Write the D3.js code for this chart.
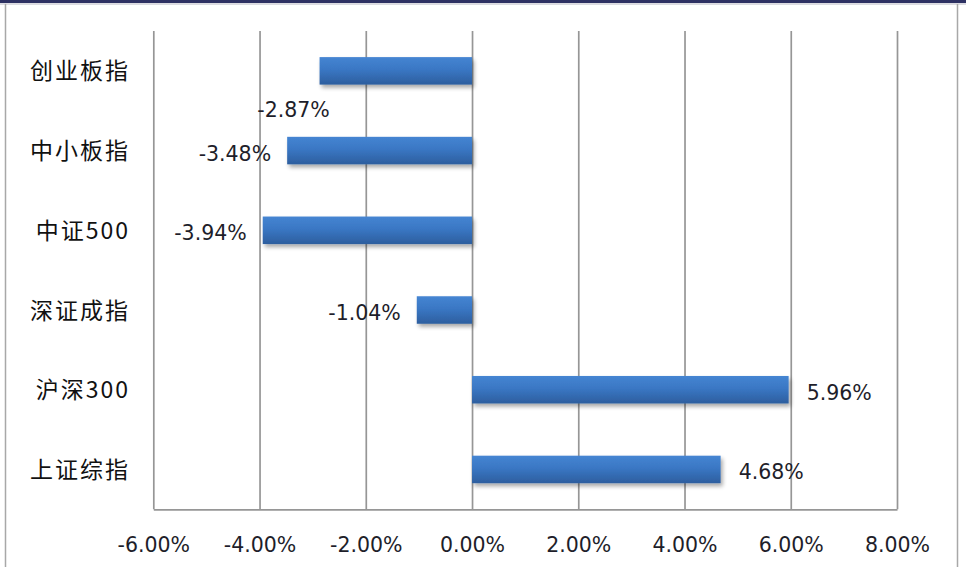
<!DOCTYPE html>
<html>
<head>
<meta charset="utf-8">
<script src="https://cdn.jsdelivr.net/npm/d3@7/dist/d3.min.js"></script>
<style>
html,body{margin:0;padding:0;background:#fff;}
svg{display:block;}
</style>
</head>
<body>
<svg id="chart" width="966" height="567"></svg>
<script>
const categories = ["创业板指", "中小板指", "中证500", "深证成指", "沪深300", "上证综指"];
const values = [-2.87, -3.48, -3.94, -1.04, 5.96, 4.68];
const tickValues = [-6, -4, -2, 0, 2, 4, 6, 8];
const xDomain = [-6, 8];

const W = 966, H = 567;
const m = {left: 153.3, right: 897, top: 31, bottom: 509.3};
const svg = d3.select("#chart");

// frame
svg.append("rect").attr("x", 0).attr("y", 0).attr("width", W).attr("height", 3).attr("fill", "#2e3163");
svg.append("line").attr("x1", 0).attr("x2", W).attr("y1", 4).attr("y2", 4).attr("stroke", "#b8b8c4").attr("stroke-width", 1);
svg.append("line").attr("x1", 5.5).attr("x2", 5.5).attr("y1", 4).attr("y2", H).attr("stroke", "#a8a8a8").attr("stroke-width", 1.5);
svg.append("line").attr("x1", 957.5).attr("x2", 957.5).attr("y1", 4).attr("y2", H).attr("stroke", "#a8a8a8").attr("stroke-width", 1.5);

const x = d3.scaleLinear().domain(xDomain).range([m.left, m.right]);
const y = d3.scaleBand().domain(categories).range([m.top, m.bottom]).paddingInner(0).paddingOuter(0);
const barH = y.bandwidth() * 0.345;

const defs = svg.append("defs");
const grad = defs.append("linearGradient").attr("id", "barGrad").attr("x1", 0).attr("y1", 0).attr("x2", 0).attr("y2", 1);
grad.append("stop").attr("offset", "0%").attr("stop-color", "#4585d2");
grad.append("stop").attr("offset", "45%").attr("stop-color", "#3a77c4");
grad.append("stop").attr("offset", "100%").attr("stop-color", "#2d5e9e");
const filt = defs.append("filter").attr("id", "shadow").attr("x", "-10%").attr("y", "-30%").attr("width", "130%").attr("height", "180%");
filt.append("feGaussianBlur").attr("in", "SourceAlpha").attr("stdDeviation", 2).attr("result", "b");
filt.append("feOffset").attr("in", "b").attr("dx", 2).attr("dy", 3).attr("result", "o");
filt.append("feComponentTransfer").attr("in", "o").attr("result", "s")
  .append("feFuncA").attr("type", "linear").attr("slope", 0.35);
const fm = filt.append("feMerge");
fm.append("feMergeNode").attr("in", "s");
fm.append("feMergeNode").attr("in", "SourceGraphic");

// gridlines
const grid = svg.append("g").attr("transform", `translate(0,${m.bottom})`)
  .call(d3.axisBottom(x).tickValues(tickValues).tickSize(-(m.bottom - m.top)).tickFormat(""));
grid.select(".domain").remove();
grid.selectAll(".tick line").attr("stroke", "#969696").attr("stroke-width", 1.7);

// axis line + labels
const ax = svg.append("g").attr("transform", `translate(0,${m.bottom})`)
  .call(d3.axisBottom(x).tickValues(tickValues).tickSize(0).tickPadding(0).tickFormat(d => d.toFixed(2) + "%"));
ax.select(".domain").attr("stroke", "#969696").attr("stroke-width", 1.7);
ax.selectAll(".tick text")
  .attr("y", 36).attr("dy", "0.35em")
  .attr("font-family", "'DejaVu Sans', Verdana, sans-serif")
  .attr("font-size", "20.5px").attr("fill", "#1e1e2a");

// category labels
svg.append("g").selectAll("text").data(categories).join("text")
  .attr("x", 130).attr("y", d => y(d) + y.bandwidth() / 2 - 1.5)
  .attr("text-anchor", "end").attr("dominant-baseline", "central")
  .attr("font-family", "'Noto Sans CJK SC', sans-serif")
  .attr("font-size", "23px").attr("letter-spacing", "2px")
  .attr("fill", "#111").text(d => d);

// bars
const data = categories.map((c, i) => ({c, v: values[i]}));
svg.append("g").selectAll("rect").data(data).join("rect")
  .attr("x", d => x(Math.min(0, d.v)))
  .attr("width", d => Math.abs(x(d.v) - x(0)))
  .attr("y", d => y(d.c) + y.bandwidth() / 2 - barH / 2)
  .attr("height", barH)
  .attr("fill", "url(#barGrad)")
  .attr("filter", "url(#shadow)");

// data labels
const labelNudge = {"创业板指": {below: true}};
svg.append("g").selectAll("text").data(data).join("text")
  .attr("x", d => {
    if (labelNudge[d.c] && labelNudge[d.c].below) return x(d.v) - 26;
    return d.v < 0 ? x(d.v) - 16 : x(d.v) + 18;
  })
  .attr("y", d => {
    const cy = y(d.c) + y.bandwidth() / 2;
    if (labelNudge[d.c] && labelNudge[d.c].below) return cy + 39.5;
    return cy + 3;
  })
  .attr("text-anchor", d => (labelNudge[d.c] && labelNudge[d.c].below) ? "middle" : (d.v < 0 ? "end" : "start"))
  .attr("dominant-baseline", "central")
  .attr("font-family", "'DejaVu Sans', Verdana, sans-serif")
  .attr("font-size", "20.5px").attr("fill", "#1e1e2a")
  .text(d => d.v.toFixed(2) + "%");
</script>
</body>
</html>
